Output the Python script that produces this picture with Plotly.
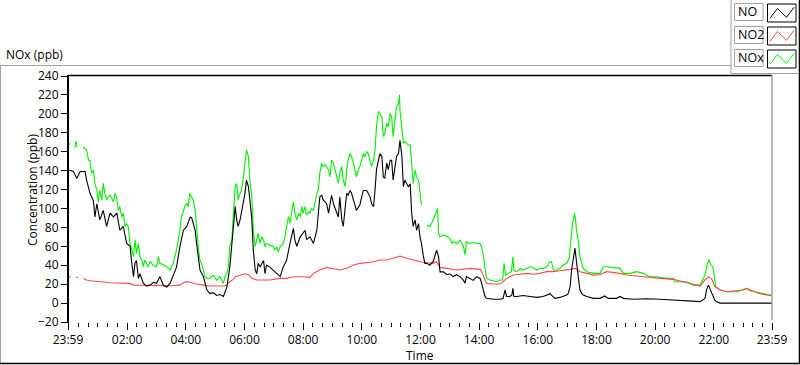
import plotly.graph_objects as go
from datetime import datetime, timedelta

# ---------------- data (minutes elapsed since 23:59, value in ppb) ----------------
START = datetime(2024, 1, 1, 23, 59)

NO_POINTS = [(0,141),(11,139),(18,132),(25,139),(35,139),(38,130),(45,116),(52,108),(55,91),(59,105),(65,88),(72,98),(79,81),(86,95),(93,91),(100,95),(106,77),(113,81),(120,63),(127,60),(130,44),(134,28),(137,42),(140,45),(144,26),(147,31),(154,21),(161,18),(168,19),(175,22),(181,21),(188,28),(195,19),(202,17),(209,21),(215,28),(222,38),(229,60),(236,77),(243,81),(250,91),(253,90),(260,77),(263,63),(270,35),(277,28),(284,14),(290,10),(297,11),(304,8),(311,9),(318,7),(325,17),(331,38),(338,77),(342,102),(345,88),(348,81),(352,88),(359,109),(362,116),(365,130),(369,123),(372,109),(376,88),(379,56),(383,35),(386,31),(389,42),(393,38),(400,45),(403,31),(406,40),(413,38),(420,35),(427,31),(434,28),(440,38),(447,45),(454,63),(461,79),(464,67),(468,60),(475,70),(481,74),(485,77),(488,67),(495,70),(502,63),(509,77),(515,112),(519,114),(522,109),(529,105),(533,95),(539,114),(543,105),(550,95),(553,91),(556,112),(560,88),(563,81),(567,105),(570,116),(573,114),(577,119),(580,116),(584,109),(587,102),(590,98),(597,104),(604,119),(611,119),(614,116),(618,112),(621,105),(625,102),(628,119),(631,141),(638,158),(642,155),(645,133),(648,132),(652,148),(655,141),(659,151),(662,151),(665,130),(669,148),(672,155),(676,158),(679,172),(683,155),(686,123),(689,130),(693,126),(696,123),(700,126),(703,95),(706,81),(710,88),(713,77),(717,84),(720,70),(723,63),(727,49),(730,42),(734,42),(740,40),(747,44),(754,56),(758,49),(761,33),(768,33),(775,30),(781,31),(788,28),(795,30),(802,28),(809,24),(812,21),(815,28),(822,26),(829,24),(836,28),(843,26),(846,21),(850,14),(853,7),(856,5),(870,4),(884,4),(890,5),(894,14),(897,7),(904,7),(908,8.5),(910,15.5),(912,7),(918,7),(931,8),(945,7),(959,6),(972,7),(979,8.5),(986,10),(989,8.5),(996,5),(1006,6),(1013,7),(1020,8.5),(1023,10),(1027,17),(1030,35),(1034,49),(1037,58),(1040,44),(1044,24),(1047,14),(1051,10),(1054,8.5),(1061,7),(1075,5),(1088,5),(1095,7),(1098,7.5),(1105,5),(1122,5),(1129,7),(1136,5),(1156,4),(1184,4.5),(1211,4),(1238,3),(1265,2.5),(1279,2),(1293,1.5),(1303,5),(1306,14),(1310,19),(1313,15.5),(1317,10),(1320,7),(1323,3),(1327,1.5),(1334,0),(1440,0)]

NO2_POINTS = [(0,27.9),(6,27.5),(10,None),(16,27.5),(21,27),(25,None),(31,26.1),(38,24.3),(45,23.6),(59,22.6),(72,22.2),(86,21.5),(100,21.5),(113,20.8),(127,20.8),(134,19),(147,19),(161,19),(175,19),(188,18.7),(202,18),(215,18.7),(229,19),(236,21.5),(243,22.6),(253,21.5),(263,20.1),(277,19),(290,18),(304,18),(318,18),(325,19),(331,22.6),(338,25),(342,27.9),(352,29.5),(362,31),(365,30.5),(369,30),(376,26.1),(386,24.4),(413,24.4),(434,26.1),(447,26.1),(461,27.9),(481,27.9),(495,27.2),(502,31.4),(515,35),(529,37.7),(543,36.7),(556,35),(570,36.7),(584,40.2),(597,42),(611,42.7),(625,43.7),(638,45.5),(652,45.5),(665,47.3),(679,49.7),(693,47.3),(706,45.5),(720,43.7),(734,42.7),(747,42),(754,43.7),(761,37.7),(775,36.7),(795,35),(822,36.7),(843,35.6),(846,33.2),(850,27.9),(853,22.6),(856,20.8),(870,20.1),(884,20.1),(890,22.6),(897,26.1),(911,29.6),(925,30.5),(938,31.4),(952,30.5),(965,31.4),(979,33.2),(993,33.2),(1006,34.2),(1020,34.9),(1027,35.6),(1037,36.7),(1047,33.2),(1061,31.4),(1075,29.6),(1088,30.2),(1102,33.2),(1129,31.4),(1143,29.6),(1163,28.6),(1184,27.2),(1211,26.1),(1238,25.1),(1259,22.6),(1279,20.1),(1293,18),(1303,24.4),(1310,27.9),(1317,25.1),(1323,17.3),(1334,13.8),(1347,12),(1381,13.8),(1388,15.5),(1409,11),(1422,9.2),(1440,7.8)]

NOX_POINTS = [(0,168.8),(5,168),(9,None),(14,164),(16,171),(19,165),(25,None),(31,165),(38,161.8),(42,151),(45,151),(48,137),(52,140.6),(55,126.5),(59,119.5),(62,107),(65,119.5),(69,109),(72,126.5),(76,114),(79,109),(82,112.5),(86,114),(93,107),(96,116),(99,112.5),(103,98),(106,102),(110,91),(113,95),(117,81),(120,84),(123,81),(127,63),(130,56),(134,49),(137,67),(140,52.5),(144,63),(147,49),(151,45.5),(154,38.5),(157,45.5),(161,42),(164,38.5),(168,44),(174,40),(181,38.5),(185,49),(188,42),(195,40),(202,38.5),(209,35),(215,42),(222,56),(226,67),(229,77),(232,91),(236,98),(239,102),(243,105.4),(246,102),(249,116),(253,112.5),(256,109),(260,98),(263,77),(267,56),(270,45.5),(273,42),(277,35),(280,28),(284,26),(290,26),(297,29.6),(304,24),(311,27.9),(318,20.8),(321,27.9),(325,31.4),(328,38.4),(331,59.6),(335,66.6),(338,94.8),(342,123),(345,126.5),(348,109),(352,116),(355,119.5),(359,133.6),(362,147.7),(365,161.8),(369,154.7),(372,130),(376,112.4),(379,77),(383,59.6),(386,66.6),(389,73.7),(393,63),(396,70),(400,66.6),(403,59.6),(406,63),(413,61.4),(420,59.6),(423,56),(427,59.6),(430,54.3),(434,59.6),(440,63),(444,70),(447,80.7),(451,91.3),(454,84.3),(458,98.3),(461,107.2),(464,94.8),(468,87.8),(471,94.8),(475,91.3),(478,101.9),(481,94.8),(485,101.9),(488,93),(492,96.5),(495,94.8),(498,100),(502,98.3),(505,105.4),(509,116),(512,119.5),(515,137),(519,147.7),(522,144.2),(526,146),(529,144.2),(533,140.6),(536,133.6),(539,151.2),(543,147.7),(546,140.6),(550,130),(553,126.5),(556,137),(560,144.2),(563,130),(567,123),(570,140.6),(573,151.2),(577,158.3),(580,154.7),(584,147.7),(587,140.6),(590,133.6),(594,140.6),(597,144.2),(601,151.2),(604,158.3),(607,154.7),(611,160),(614,158.3),(618,151.2),(621,144.2),(625,151.2),(628,161.8),(631,186.4),(635,202.3),(638,200.5),(642,197),(645,175.9),(648,179.4),(652,190),(655,186.4),(659,200.5),(662,197),(665,175.9),(669,193.5),(672,207.6),(676,211.1),(678,220),(679,204),(683,179.4),(686,168.8),(689,170.6),(693,168.8),(696,167),(700,167),(703,140.6),(706,126.5),(710,140.6),(713,133.6),(717,130),(720,116),(723,103.6),(728,None),(734,82.5),(740,80.7),(747,87.8),(754,98.3),(756,100),(758,73.7),(761,70.2),(768,72),(775,70),(781,68.4),(785,63),(788,64.9),(795,63),(802,66.6),(809,59.6),(812,50.8),(815,64.9),(822,63.1),(829,64),(836,63),(843,63),(846,59.6),(850,49),(853,34.9),(856,26.1),(863,24.4),(870,23.3),(877,22.6),(884,24.4),(889,24.4),(892,42),(895,29.6),(901,31.4),(907,33.2),(910,49),(912,34.9),(918,33),(925,36.7),(931,34.9),(938,36.7),(945,38.4),(952,36.7),(959,34.9),(965,36.7),(972,36.7),(979,38.4),(986,43.7),(989,43.7),(993,34.9),(1000,34.9),(1006,36.7),(1013,40.2),(1020,42),(1025,47.3),(1029,70.2),(1032,84.3),(1036,94.8),(1038,89.5),(1040,77.2),(1044,64.9),(1047,49),(1051,42),(1054,36.7),(1061,33.2),(1075,31.4),(1088,31.4),(1095,38.4),(1102,38.4),(1129,36.7),(1136,31.4),(1150,31.4),(1163,33.2),(1177,31.4),(1190,27.9),(1204,27.9),(1225,26.1),(1238,26.1),(1242,22.6),(1259,22.6),(1265,22.6),(1279,19),(1293,19),(1303,29.6),(1308,42),(1311,45.5),(1315,40.2),(1319,38.4),(1321,31.4),(1325,17.3),(1334,13.8),(1347,12),(1368,12),(1381,13.8),(1388,15.5),(1395,13),(1409,11.3),(1422,9.6),(1436,8.5),(1440,8.5)]

SERIES_NAMES = ["NO", "NO2", "NOx"]
SERIES_COLORS = ["#000000", "#ff4848", "#00ee00"]
Y_TICKS = list(range(-20, 241, 20))
X_TICK_HOURS = [2, 4, 6, 8, 10, 12, 14, 16, 18, 20, 22]
X_TICK_TEXT = ["23:59", "02:00", "04:00", "06:00", "08:00", "10:00", "12:00",
               "14:00", "16:00", "18:00", "20:00", "22:00", "23:59"]

FONT = "Segoe UI, Open Sans, Noto Sans, sans-serif"
W, H = 800, 365
L, R, T, B = 68, 772, 76, 322   # plot area in pixels

def px(x):
    return (x - L) / (R - L)

def py(y):
    return (B - y) / (B - T)

def xy(points):
    xs = [START + timedelta(minutes=m) for m, v in points]
    ys = [v for m, v in points]
    return xs, ys

fig = go.Figure()
order = [2, 1, 0]  # NOx drawn first, NO on top
all_pts = [NO_POINTS, NO2_POINTS, NOX_POINTS]
for i in order:
    xs, ys = xy(all_pts[i])
    fig.add_trace(go.Scatter(x=xs, y=ys, mode="lines", name=SERIES_NAMES[i],
                             line=dict(color=SERIES_COLORS[i], width=1.1),
                             connectgaps=False, showlegend=False))

end = START + timedelta(minutes=1440)
major = [START] + [datetime(2024, 1, 2, h, 0) for h in X_TICK_HOURS] + [end]
minor = [datetime(2024, 1, 2, 0, 0) + timedelta(minutes=20 * k) for k in range(72)]

fig.update_xaxes(range=[START, end], tickmode="array", tickvals=major, ticktext=X_TICK_TEXT,
                 ticks="outside", ticklen=7, tickwidth=1, tickcolor="black",
                 showgrid=False, zeroline=False, showline=False,
                 tickfont=dict(family=FONT, size=12, color="#000"),
                 minor=dict(tickmode="array", tickvals=minor, ticks="outside",
                            ticklen=4, tickwidth=1, tickcolor="black", showgrid=False))
fig.update_yaxes(range=[-20, 240], tickmode="array", tickvals=Y_TICKS,
                 ticks="outside", ticklen=6, tickwidth=1, tickcolor="black",
                 showgrid=False, zeroline=False, showline=False,
                 tickfont=dict(family=FONT, size=12, color="#000"))

GRAY = "#a0a0a0"
shapes = []
def line(x0, y0, x1, y1, color, width=1):
    shapes.append(dict(type="line", xref="paper", yref="paper",
                       x0=px(x0), y0=py(y0), x1=px(x1), y1=py(y1),
                       line=dict(color=color, width=width)))

# outer frame
line(0, 65.5, 731, 65.5, GRAY)
line(0.5, 65.5, 0.5, 363, GRAY)
line(0, 363.5, 800, 363.5, "#000", 1.5)
line(799.5, 0, 799.5, 364, "#000", 1.5)
# legend panel frame
line(731, 0, 731, 73.5, GRAY)
line(731, 73.5, 799, 73.5, GRAY)
# plot frame
line(68, 75.5, 772, 75.5, "#000", 1.5)
line(68, 75, 68, 323, "#000", 2)
line(772, 75, 772, 320, GRAY, 1.5)

# legend boxes
box_tops = [4, 27, 50]
for top, name, col in zip(box_tops, SERIES_NAMES, SERIES_COLORS):
    shapes.append(dict(type="rect", xref="paper", yref="paper",
                       x0=px(734.5), x1=px(763), y0=py(top - 0.5), y1=py(top + 16.5),
                       line=dict(color=GRAY, width=1), fillcolor="white"))
    shapes.append(dict(type="rect", xref="paper", yref="paper",
                       x0=px(767.5), x1=px(796), y0=py(top), y1=py(top + 18),
                       line=dict(color="#000", width=1), fillcolor="white"))
    zz = [(770, top + 14.3), (777.5, top + 4.5), (786.5, top + 13.3), (794, top + 3.3)]
    path = "M " + " L ".join(f"{px(a):.5f},{py(b):.5f}" for a, b in zz)
    shapes.append(dict(type="path", xref="paper", yref="paper", path=path,
                       line=dict(color=col, width=1)))

annotations = [
    dict(text="NOx (ppb)", xref="paper", yref="paper", x=px(4), y=py(55),
         xanchor="left", yanchor="middle", showarrow=False,
         font=dict(family=FONT, size=12, color="#000")),
    dict(text="Concentration (ppb)", xref="paper", yref="paper", x=px(32), y=py(190),
         xanchor="center", yanchor="middle", textangle=-90, showarrow=False,
         font=dict(family=FONT, size=12, color="#000")),
    dict(text="Time", xref="paper", yref="paper", x=px(419.5), y=py(355.5),
         xanchor="center", yanchor="middle", showarrow=False,
         font=dict(family=FONT, size=12, color="#000")),
]
for top, name in zip(box_tops, SERIES_NAMES):
    annotations.append(dict(text=name, xref="paper", yref="paper", x=px(736), y=py(top + 8),
                            xanchor="left", yanchor="middle", showarrow=False,
                            font=dict(family=FONT, size=12.5, color="#000")))

fig.update_layout(width=W, height=H, margin=dict(l=L, r=W - R, t=T, b=H - B),
                  paper_bgcolor="white", plot_bgcolor="white",
                  shapes=shapes, annotations=annotations, showlegend=False,
                  hovermode=False)

fig.write_html("out.html", config={"displayModeBar": False},
               post_script="document.body.style.margin='0';document.body.style.padding='0';document.body.style.overflow='hidden';")
